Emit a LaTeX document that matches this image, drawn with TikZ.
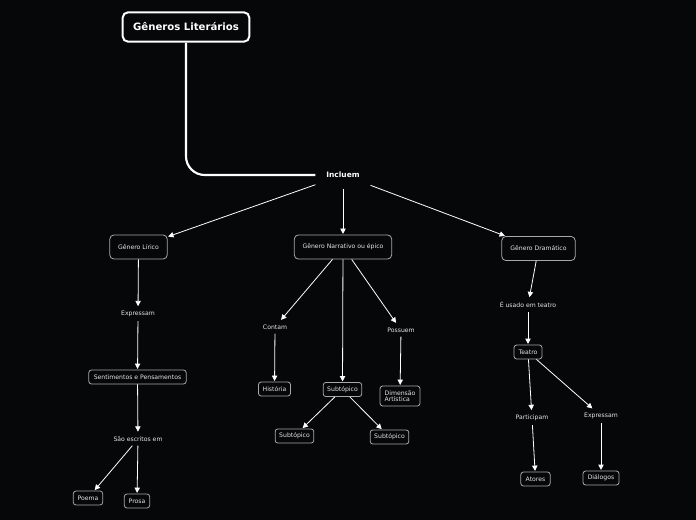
\documentclass[tikz,border=0pt]{standalone}
\usepackage{fontspec}
\setmainfont{DejaVu Sans}
\usetikzlibrary{arrows.meta}
\definecolor{bg}{HTML}{060708}
\definecolor{boxline}{HTML}{A8A8A8}
\definecolor{txt}{HTML}{E6E6E6}
\begin{document}
\begin{tikzpicture}[x=0.75pt,y=-0.75pt,
  topbox/.style={draw=white,line width=1.5pt,rounded corners=4pt,fill=bg,text=white,font=\bfseries\fontsize{7.6}{9}\selectfont,minimum width=95pt,minimum height=22pt,inner sep=0pt},
  gbox/.style={draw=boxline,line width=0.6pt,rounded corners=3pt,fill=bg,text=txt,font=\fontsize{4.6}{5.5}\selectfont,minimum height=18pt,inner sep=2pt},
  sbox/.style={draw=boxline,line width=0.6pt,rounded corners=2pt,fill=bg,text=txt,font=\fontsize{4.6}{5.5}\selectfont,minimum height=10.5pt,inner sep=2pt},
  lab/.style={text=txt,font=\fontsize{4.6}{5.5}\selectfont,inner sep=3pt},
  conn/.style={draw=white,line width=0.6pt,-{Triangle[length=4pt,width=4pt]},shorten >=0.5pt}
]
\fill[bg] (0,0) rectangle (696,520);
\useasboundingbox (0,0) rectangle (696,520);

\node[topbox] (title) at (186,27) {Gêneros Literários};
\node[lab,font=\bfseries\fontsize{5.6}{6.5}\selectfont,text=white,inner sep=8pt] (incl) at (343,175) {Incluem};

\draw[white,line width=1.6pt,rounded corners=14pt] (title.south) |- (incl.west);

\node[gbox,minimum width=43pt] (lir) at (138.5,247) {Gênero Lírico};
\node[gbox,minimum width=73pt] (nar) at (343,247) {Gênero Narrativo ou épico};
\node[gbox,minimum width=55pt] (dra) at (538.5,248.5) {Gênero Dramático};

\draw[conn] (incl) -- (lir);
\draw[conn] (incl) -- (nar);
\draw[conn] (incl) -- (dra);

% Lirico branch
\node[lab] (exp1) at (138,314) {Expressam};
\node[sbox,minimum width=73pt] (sent) at (137.5,377) {Sentimentos e Pensamentos};
\node[lab] (sao) at (138,439) {São escritos em};
\node[sbox,minimum width=22pt] (poe) at (88,498) {Poema};
\node[sbox,minimum width=19pt] (pro) at (137,501) {Prosa};
\draw[conn] (lir) -- (exp1);
\draw[conn] (exp1) -- (sent);
\draw[conn] (sent) -- (sao);
\draw[conn] (sao) -- (poe);
\draw[conn] (sao) -- (pro);

% Narrativo branch
\node[lab] (con) at (275,327) {Contam};
\node[sbox,minimum width=24pt] (his) at (274.5,389) {História};
\node[sbox,minimum width=29pt] (sub) at (342.5,389.5) {Subtópico};
\node[lab] (pos) at (401,330) {Possuem};
\node[sbox,minimum width=30pt,minimum height=15pt,align=left,font=\fontsize{4.6}{5}\selectfont] (dim) at (400,396) {Dimensão\\Artística};
\node[sbox,minimum width=29pt] (subl) at (294.5,436) {Subtópico};
\node[sbox,minimum width=29pt] (subr) at (389.5,437) {Subtópico};
\draw[conn] (nar) -- (con);
\draw[conn] (nar) -- (sub);
\draw[conn] (nar) -- (pos);
\draw[conn] (con) -- (his);
\draw[conn] (pos) -- (dim);
\draw[conn] (sub) -- (subl);
\draw[conn] (sub) -- (subr);

% Dramatico branch
\node[lab] (eus) at (528,305) {É usado em teatro};
\node[sbox,minimum width=21pt] (tea) at (528,352) {Teatro};
\node[lab] (par) at (532,418) {Participam};
\node[lab] (exp2) at (601,416) {Expressam};
\node[sbox,minimum width=22pt] (ato) at (535.5,479) {Atores};
\node[sbox,minimum width=27pt] (dia) at (601,478) {Diálogos};
\draw[conn] (dra) -- (eus);
\draw[conn] (eus) -- (tea);
\draw[conn] (tea) -- (par);
\draw[conn] (tea) -- (exp2);
\draw[conn] (par) -- (ato);
\draw[conn] (exp2) -- (dia);
\end{tikzpicture}
\end{document}
